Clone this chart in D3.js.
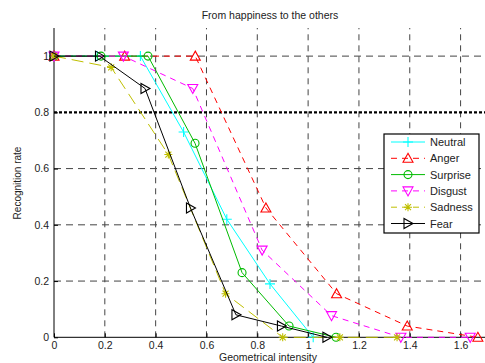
<!DOCTYPE html>
<html>
<head>
<meta charset="utf-8">
<script src="https://cdn.jsdelivr.net/npm/d3@7"></script>
<style>
  body { margin: 0; background: #fff; }
  text { font-family: "Liberation Sans", Arial, sans-serif; fill: #222; }
</style>
</head>
<body>
<script>
// data
var xTicks = [0, 0.2, 0.4, 0.6, 0.8, 1, 1.2, 1.4, 1.6];
var yTicks = [0, 0.2, 0.4, 0.6, 0.8, 1];
var names = ["Neutral", "Anger", "Surprise", "Disgust", "Sadness", "Fear"];

var neutralX = [0, 0.17, 0.34, 0.51, 0.68, 0.85, 1.02];
var neutralY = [1, 1, 1, 0.73, 0.42, 0.19, 0];
var angerX = [0, 0.278, 0.556, 0.834, 1.112, 1.39, 1.668];
var angerY = [1, 1, 1, 0.46, 0.155, 0.04, 0];
var surpriseX = [0, 0.185, 0.37, 0.555, 0.74, 0.925, 1.11];
var surpriseY = [1, 1, 1, 0.69, 0.23, 0.04, 0];
var disgustX = [0, 0.273, 0.546, 0.819, 1.092, 1.365, 1.638];
var disgustY = [1, 1, 0.885, 0.31, 0.077, 0, 0];
var sadnessX = [0, 0.225, 0.45, 0.675, 0.9, 1.125, 1.35];
var sadnessY = [1, 0.96, 0.65, 0.155, 0, 0, 0];
var fearX = [0, 0.179, 0.358, 0.537, 0.716, 0.895, 1.074];
var fearY = [1, 1, 0.885, 0.46, 0.08, 0.04, 0];

var W = 485, H = 363;
var svg = d3.select("body").append("svg").attr("width", W).attr("height", H);

var x = d3.scaleLinear().domain([0, 1.7]).range([54, 486]);
var y = d3.scaleLinear().domain([0, 1.1]).range([337.3, 28]);

// grid
svg.append("g").selectAll("line").data(xTicks.slice(1)).enter().append("line")
  .attr("x1", d => x(d)).attr("x2", d => x(d))
  .attr("y1", y(0)).attr("y2", y(1.1))
  .attr("stroke", "#444").attr("stroke-dasharray", "6,5");
svg.append("g").selectAll("line").data(yTicks.slice(1).filter(d => d != 0.8)).enter().append("line")
  .attr("x1", x(0)).attr("x2", W)
  .attr("y1", d => y(d)).attr("y2", d => y(d))
  .attr("stroke", "#444").attr("stroke-dasharray", "7,5");
// threshold line
svg.append("line")
  .attr("x1", x(0)).attr("x2", W).attr("y1", y(0.8)).attr("y2", y(0.8))
  .attr("stroke", "#000").attr("stroke-width", 2.2).attr("stroke-dasharray", "3,2");

// axes
var xAxis = svg.append("g").attr("transform", "translate(0," + y(0) + ")")
  .call(d3.axisBottom(x).tickValues(xTicks).tickSize(-4).tickPadding(4).tickFormat(d3.format("")));
var yAxis = svg.append("g").attr("transform", "translate(" + x(0) + ",0)")
  .call(d3.axisLeft(y).tickValues(yTicks).tickSize(-4).tickPadding(5).tickFormat(d3.format("")));
[xAxis, yAxis].forEach(function(g) {
  g.select(".domain").attr("stroke", "#000");
  g.selectAll(".tick line").attr("stroke", "#000");
  g.selectAll("text").style("font-size", "10.5px").attr("fill", "#222");
});
xAxis.select(".domain").attr("d", "M" + x(0) + ",0H" + W);
yAxis.select(".domain").attr("d", "M0," + y(0) + "V" + y(1.1));

// series
var series = [
  {name: names[0], xs: neutralX, ys: neutralY, color: "#00ffff", dash: null, marker: "plus"},
  {name: names[1], xs: angerX, ys: angerY, color: "#ff0000", dash: "6,5", marker: "tri-up"},
  {name: names[2], xs: surpriseX, ys: surpriseY, color: "#00bb00", dash: null, marker: "circle"},
  {name: names[3], xs: disgustX, ys: disgustY, color: "#ff00ff", dash: "6,5", marker: "tri-down"},
  {name: names[4], xs: sadnessX, ys: sadnessY, color: "#bfbf00", dash: "12,6", marker: "star"},
  {name: names[5], xs: fearX, ys: fearY, color: "#000000", dash: null, marker: "tri-right"}
];

function drawMarker(g, type, cx, cy, color) {
  var m = g.append("g").attr("transform", "translate(" + cx + "," + cy + ")");
  if (type == "plus") {
    m.append("path").attr("d", "M-5,0H5M0,-5V5").attr("stroke", color).attr("stroke-width", 1.1);
  } else if (type == "circle") {
    m.append("circle").attr("r", 4).attr("fill", "none").attr("stroke", color).attr("stroke-width", 1.1);
  } else if (type == "tri-up") {
    m.append("path").attr("d", "M0,-5L5,4L-5,4Z").attr("fill", "none").attr("stroke", color).attr("stroke-width", 1.1);
  } else if (type == "tri-down") {
    m.append("path").attr("d", "M0,5L5,-4L-5,-4Z").attr("fill", "none").attr("stroke", color).attr("stroke-width", 1.1);
  } else if (type == "tri-right") {
    m.append("path").attr("d", "M5,0L-4,-5L-4,5Z").attr("fill", "none").attr("stroke", color).attr("stroke-width", 1.1);
  } else if (type == "star") {
    m.append("path").attr("d", "M-4,0H4M0,-4V4M-3,-3L3,3M-3,3L3,-3").attr("stroke", color).attr("stroke-width", 1.1);
  }
}

var line = d3.line().x(d => x(d[0])).y(d => y(d[1]));
series.forEach(function(s) {
  var pts = s.xs.map((v, i) => [v, s.ys[i]]);
  var g = svg.append("g");
  g.append("path").datum(pts).attr("d", line)
    .attr("fill", "none").attr("stroke", s.color).attr("stroke-width", 1)
    .attr("stroke-dasharray", s.dash);
  pts.forEach(p => drawMarker(g, s.marker, x(p[0]), y(p[1]), s.color));
});

// legend
var lg = svg.append("g").attr("transform", "translate(384,134)");
lg.append("rect").attr("width", 95).attr("height", 99)
  .attr("fill", "#fff").attr("stroke", "#000").attr("stroke-width", 1.2);
series.forEach(function(s, i) {
  var ly = 8 + i * 16.3;
  lg.append("line").attr("x1", 7).attr("x2", 41).attr("y1", ly).attr("y2", ly)
    .attr("stroke", s.color).attr("stroke-dasharray", s.dash ? "6,5" : null);
  drawMarker(lg, s.marker, 24, ly, s.color);
  lg.append("text").attr("x", 46).attr("y", ly + 4).style("font-size", "11px").text(s.name);
});

// titles
svg.append("text").attr("x", 270).attr("y", 19).attr("text-anchor", "middle")
  .style("font-size", "10.5px").text("From happiness to the others");
svg.append("text").attr("x", 268).attr("y", 361).attr("text-anchor", "middle")
  .style("font-size", "10.5px").text("Geometrical intensity");
svg.append("text").attr("transform", "translate(21,183) rotate(-90)").attr("text-anchor", "middle")
  .style("font-size", "10px").text("Recognition rate");
</script>
</body>
</html>
